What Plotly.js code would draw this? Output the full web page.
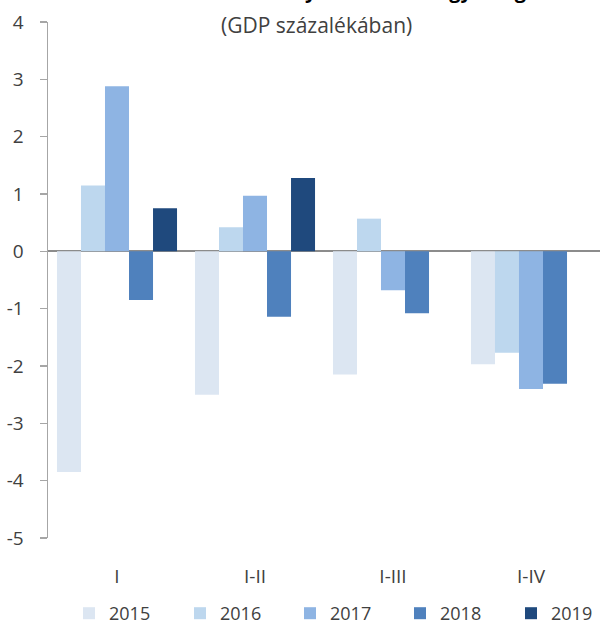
<!DOCTYPE html>
<html>
<head>
<meta charset="utf-8">
<script src="https://cdn.plot.ly/plotly-3.0.1.min.js"></script>
<style>
html,body{margin:0;padding:0;background:#fff;}
#chart{width:600px;height:624px;}
</style>
</head>
<body>
<div id="chart"></div>
<script>
var categories = ["I", "I-II", "I-III", "I-IV"];
var years = ["2015", "2016", "2017", "2018", "2019"];
var values2015 = [-3.85, -2.50, -2.15, -1.97];
var values2016 = [1.15, 0.42, 0.57, -1.77];
var values2017 = [2.88, 0.97, -0.68, -2.40];
var values2018 = [-0.85, -1.14, -1.08, -2.31];
var values2019 = [0.75, 1.28, null, null];
var yTicks = [-5, -4, -3, -2, -1, 0, 1, 2, 3, 4];
var titleText = "Halmozott kormányzati szektor egyenlege";
var subtitleText = "(GDP százalékában)";

var seriesValues = [values2015, values2016, values2017, values2018, values2019];
var colors = ["#DCE6F2", "#BDD7EE", "#8EB4E3", "#4F81BD", "#1F497D"];
var FONT = "Open Sans, Noto Sans, sans-serif";
var TXT = "#404040";

var plotLeft = 48, plotRight = 600, plotTop = 22, plotBottom = 538, H = 624;
var plotW = plotRight - plotLeft;
var plotH = plotBottom - plotTop;

// legend entry left edges in pixels (one legend box per series)
var legendLeftPx = [69, 180, 290, 400, 511];
var legendIds = ["legend", "legend2", "legend3", "legend4", "legend5"];

var traces = years.map(function (yr, i) {
  return {
    type: "bar",
    name: yr,
    x: categories,
    y: seriesValues[i],
    legend: legendIds[i],
    marker: { color: colors[i], line: { width: 0 } },
    hoverinfo: "x+y+name"
  };
});

var layout = {
  width: 600,
  height: 624,
  margin: { l: plotLeft, r: 600 - plotRight, t: plotTop, b: H - plotBottom, pad: 0, autoexpand: false },
  paper_bgcolor: "#ffffff",
  plot_bgcolor: "#ffffff",
  barmode: "group",
  bargap: 0.13,
  bargroupgap: 0,
  font: { family: FONT, size: 19, color: TXT },
  showlegend: true,
  xaxis: {
    type: "category",
    showline: false,
    showgrid: false,
    zeroline: false,
    ticks: "outside",
    ticklen: 21,
    tickcolor: "rgba(0,0,0,0)",
    tickfont: { family: FONT, size: 19, color: TXT },
    fixedrange: true
  },
  yaxis: {
    range: [-5, 4],
    tickvals: yTicks,
    ticktext: yTicks.map(function (v) { return String(v); }),
    showgrid: false,
    showline: true,
    linecolor: "#a6a6a6",
    linewidth: 1.5,
    ticks: "outside",
    ticklen: 7,
    tickwidth: 1.5,
    tickcolor: "#a6a6a6",
    ticklabelstandoff: 12,
    zeroline: true,
    zerolinecolor: "#8c8c8c",
    zerolinewidth: 2,
    tickfont: { family: FONT, size: 19, color: TXT },
    fixedrange: true
  },
  annotations: [
    {
      text: "<b>" + titleText + "</b>",
      xref: "paper", yref: "paper",
      x: 0.5054, xanchor: "center",
      y: 1 + (plotTop + 9) / plotH, yanchor: "middle",
      showarrow: false,
      font: { family: FONT, size: 20, color: "#000000" }
    },
    {
      text: subtitleText,
      xref: "paper", yref: "paper",
      x: 0.487, xanchor: "center",
      y: 1 - (25 - plotTop) / plotH, yanchor: "middle",
      showarrow: false,
      font: { family: FONT, size: 21, color: TXT }
    }
  ]
};

legendIds.forEach(function (id, i) {
  layout[id] = {
    orientation: "h",
    x: (legendLeftPx[i] - plotLeft) / plotW,
    xanchor: "left",
    y: -(H - plotBottom + 8) / plotH,
    yanchor: "bottom",
    itemwidth: 30,
    font: { family: FONT, size: 18, color: TXT },
    borderwidth: 0,
    bgcolor: "rgba(0,0,0,0)"
  };
});

Plotly.newPlot("chart", traces, layout, { displayModeBar: false, staticPlot: true });
</script>
</body>
</html>
